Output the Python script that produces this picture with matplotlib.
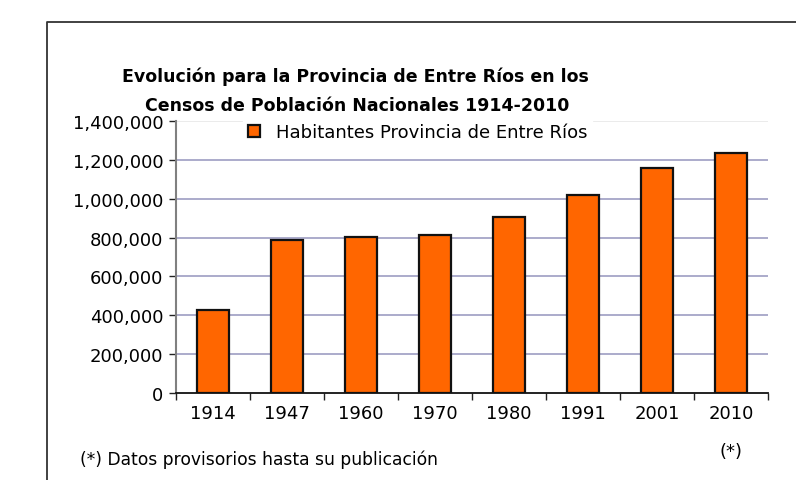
import matplotlib
matplotlib.use("Agg")
import matplotlib.pyplot as plt
from matplotlib.lines import Line2D
from matplotlib.ticker import FuncFormatter, FixedLocator
import numpy as np

years = ["1914", "1947", "1960", "1970", "1980", "1991", "2001", "2010"]
habitantes = [425373, 787362, 805357, 811691, 908313, 1020257, 1158147, 1235994]
yticks = [0, 200000, 400000, 600000, 800000, 1000000, 1200000, 1400000]
title_lines = ["Evolución para la Provincia de Entre Ríos en los",
               "Censos de Población Nacionales 1914-2010"]
legend_label = "Habitantes Provincia de Entre Ríos"
footnote = "(*) Datos provisorios hasta su publicación"

plt.rcParams['font.family'] = ['DejaVu Sans']
FS = 13

W, H = 796, 481
fig = plt.figure(figsize=(W / 100, H / 100), dpi=100)
fig.patch.set_facecolor("white")

# outer frame (left and top edges)
fig.add_artist(Line2D([47 / W, 47 / W, 1.0], [0.0, 1 - 23 / H, 1 - 23 / H],
                      transform=fig.transFigure, color="#333333", lw=1.3))

ax = fig.add_axes([176 / W, 1 - 394 / H, (768 - 176) / W, (394 - 122) / H])
x = np.arange(len(years))
ax.bar(x, habitantes, width=0.42, color="#FF6600", edgecolor="#111111",
       linewidth=1.6, zorder=3, label=legend_label)
ax.set_xlim(-0.5, len(years) - 0.5)
ax.set_ylim(0, 1400000)

for v in yticks[1:-1]:
    ax.axhline(v, color="#9D9DC2", lw=1.2, zorder=1)
ax.axhline(1400000, color="#E8E8E8", lw=1.2, zorder=1)

ax.yaxis.set_major_locator(FixedLocator(yticks))
ax.yaxis.set_major_formatter(FuncFormatter(lambda v, p: f"{int(v):,}"))
ax.set_xticks(np.arange(len(years) + 1) - 0.5)
ax.set_xticklabels([])
ax.set_xticks(x, minor=True)
ax.set_xticklabels(years, minor=True)
ax.tick_params(axis="x", which="minor", length=0, pad=8, labelsize=FS)
ax.tick_params(axis="x", which="major", length=5, width=1, color="#222222", direction="out")
ax.tick_params(axis="y", length=5, width=1, color="#222222", labelsize=FS, pad=4)

for s in ["top", "right"]:
    ax.spines[s].set_visible(False)
ax.spines["left"].set_color("#808080")
ax.spines["left"].set_linewidth(1.5)
ax.spines["bottom"].set_color("#111111")
ax.spines["bottom"].set_linewidth(1.3)

leg = ax.legend(loc="upper left", bbox_to_anchor=(58 / 592, 1.045), frameon=True,
                fontsize=FS, handlelength=0.65, handleheight=0.65,
                handletextpad=0.85, borderpad=0.3)
leg.get_frame().set_edgecolor("white")
leg.get_frame().set_facecolor("white")
leg.get_frame().set_alpha(1)
leg.get_frame().set_boxstyle("square", pad=0)

fig.text(355 / W, 1 - 77 / H, title_lines[0], ha="center", va="center",
         fontsize=12.5, fontweight="bold")
fig.text(357 / W, 1 - 106 / H, title_lines[1], ha="center", va="center",
         fontsize=12.5, fontweight="bold")
fig.text(80 / W, 1 - 460 / H, footnote, ha="left", va="center", fontsize=12.3)
ax.text(len(years) - 1, -0.215, "(*)", transform=ax.get_xaxis_transform(),
        ha="center", va="center", fontsize=FS)

fig.savefig("out.png", dpi=100)
